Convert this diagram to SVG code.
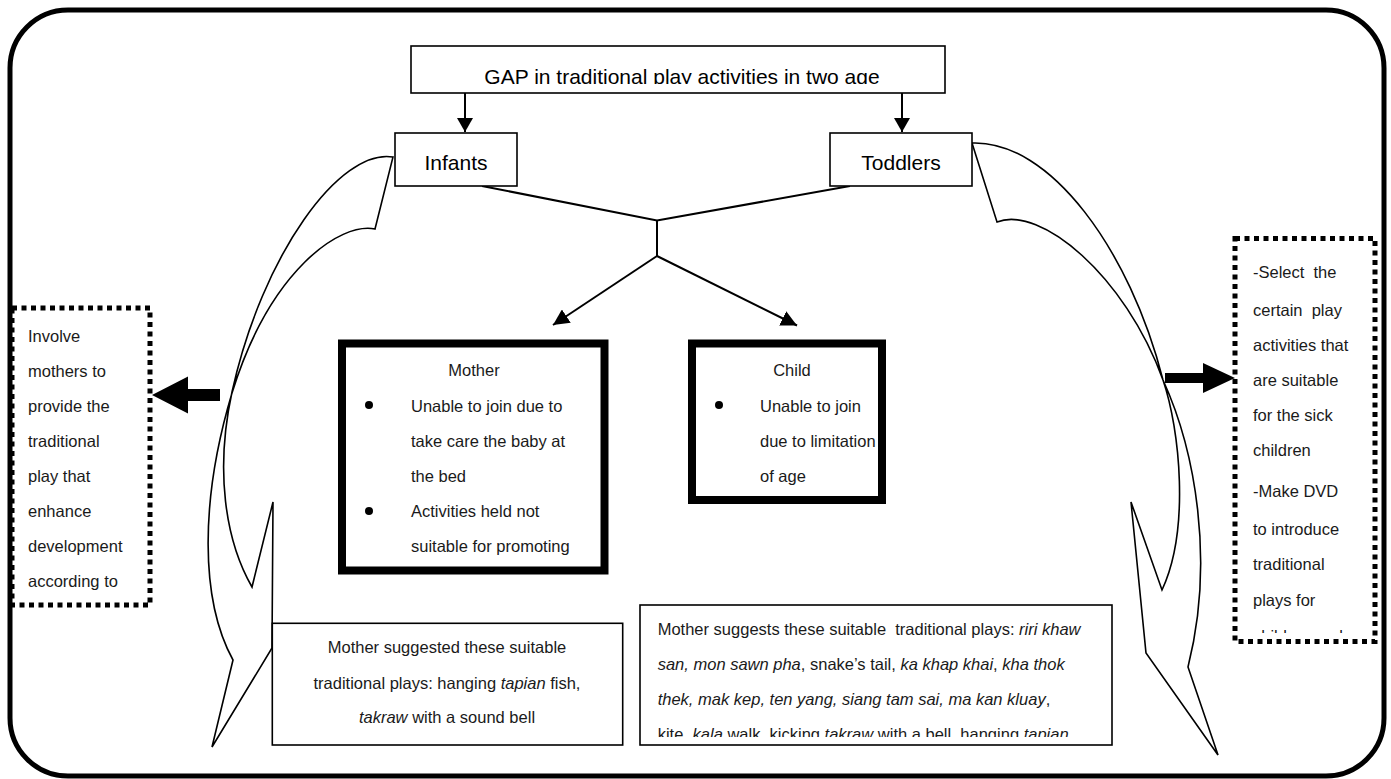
<svg xmlns="http://www.w3.org/2000/svg" width="1391" height="779" viewBox="0 0 1391 779">
<style>
.t{font-family:"Liberation Sans",Arial,sans-serif;fill:#1a1a1a}
.big{font-size:21px;fill:#000}
.b{font-size:16.5px}
.i{font-style:italic}
.box{fill:#fff;stroke:#000;stroke-width:1.6}
.thick{fill:#fff;stroke:#000;stroke-width:8}
.dot{fill:none;stroke:#000;stroke-width:5;stroke-dasharray:5 4.5}
.con{fill:none;stroke:#000;stroke-width:2}
.cur{fill:none;stroke:#000;stroke-width:1.6;stroke-linejoin:miter}
</style>
<defs>
<marker id="ah" viewBox="0 0 16 16" refX="16" refY="8" markerWidth="16" markerHeight="16" markerUnits="userSpaceOnUse" orient="auto"><path d="M0,0 L16,8 L0,16 Z" fill="#000"/></marker>
<marker id="ahs" viewBox="0 0 14 16" refX="14" refY="8" markerWidth="14" markerHeight="16" markerUnits="userSpaceOnUse" orient="auto"><path d="M0,0 L14,8 L0,16 Z" fill="#000"/></marker>
<clipPath id="cTitle"><rect x="411" y="46" width="534" height="38"/></clipPath>
<clipPath id="cRight"><rect x="1235" y="240" width="140" height="393"/></clipPath>
<clipPath id="cBR"><rect x="640" y="605" width="472" height="132"/></clipPath>
</defs>
<rect id="frame" x="10" y="10" width="1374" height="766" rx="58" ry="58" fill="#fff" stroke="#000" stroke-width="5"/>

<g id="callout-left">
<path class="cur" d="M393,157 C340,148 262,255 232,392 C215,470 225,540 252,587 L273,502 L272,648 L212,747 L233,660 C200,600 200,500 232,393 C270,270 340,222 375,229 Z"/>
</g>
<g id="callout-right">
<path class="cur" d="M972,143 C1050,140 1130,250 1163,380 C1180,430 1190,530 1162,590 L1131,502 L1146,653 L1218,755 L1188,667 C1215,560 1195,450 1163,380 C1125,275 1040,205 997,222 Z"/>
</g>

<g id="connectors">
<line class="con" x1="465" y1="93" x2="465" y2="132" marker-end="url(#ahs)"/>
<line class="con" x1="902" y1="93" x2="902" y2="132" marker-end="url(#ahs)"/>
<polyline class="con" points="482,186 657,220.5 850,186"/>
<line class="con" x1="657" y1="220.5" x2="657" y2="256"/>
<line class="con" x1="657" y1="256" x2="553" y2="325" marker-end="url(#ah)"/>
<line class="con" x1="657" y1="256" x2="797" y2="325.5" marker-end="url(#ah)"/>
<polygon points="152,395 188,376.5 188,389 220,389 220,401 188,401 188,413.5" fill="#000"/>
<polygon points="1235,378 1203,363 1203,373 1165,373 1165,383 1203,383 1203,393" fill="#000"/>
</g>

<g id="title">
<rect class="box" x="411" y="46" width="534" height="47"/>
<text class="t big" x="682" y="84" text-anchor="middle" clip-path="url(#cTitle)">GAP in traditional play activities in two age</text>
</g>
<g id="infants">
<rect class="box" x="395" y="133" width="122" height="53"/>
<text class="t big" x="456" y="170" text-anchor="middle">Infants</text>
</g>
<g id="toddlers">
<rect class="box" x="830" y="133" width="142" height="53"/>
<text class="t big" x="901" y="170" text-anchor="middle">Toddlers</text>
</g>

<g id="mother">
<rect class="thick" x="342" y="343.5" width="262.5" height="227"/>
<text class="t b" x="474" y="376" text-anchor="middle">Mother</text>
<circle cx="369" cy="405" r="4" fill="#000"/>
<text class="t b" x="411" y="411.7">Unable to join due to</text>
<text class="t b" x="411" y="446.7">take care the baby at</text>
<text class="t b" x="411" y="481.7">the bed</text>
<circle cx="369" cy="511" r="4" fill="#000"/>
<text class="t b" x="411" y="517">Activities held not</text>
<text class="t b" x="411" y="552">suitable for promoting</text>
</g>

<g id="child">
<rect class="thick" x="692" y="343.5" width="190" height="156.5"/>
<text class="t b" x="792" y="376" text-anchor="middle">Child</text>
<circle cx="719" cy="405" r="4" fill="#000"/>
<text class="t b" x="760" y="411.7">Unable to join</text>
<text class="t b" x="760" y="446.7">due to limitation</text>
<text class="t b" x="760" y="481.7">of age</text>
</g>

<g id="left-note">
<rect class="dot" x="12" y="308" width="138" height="297"/>
<text class="t b" x="28" y="341.7">Involve</text>
<text class="t b" x="28" y="376.7">mothers to</text>
<text class="t b" x="28" y="411.7">provide the</text>
<text class="t b" x="28" y="446.7">traditional</text>
<text class="t b" x="28" y="481.7">play that</text>
<text class="t b" x="28" y="516.7">enhance</text>
<text class="t b" x="28" y="551.7">development</text>
<text class="t b" x="28" y="586.7">according to</text>
</g>

<g id="right-note">
<rect class="dot" x="1235" y="238.5" width="140" height="403"/>
<g clip-path="url(#cRight)">
<text class="t b" x="1253" y="278.3" xml:space="preserve">-Select  the</text>
<text class="t b" x="1253" y="316" xml:space="preserve">certain  play</text>
<text class="t b" x="1253" y="350.7">activities that</text>
<text class="t b" x="1253" y="386">are suitable</text>
<text class="t b" x="1253" y="420.7">for the sick</text>
<text class="t b" x="1253" y="456">children</text>
<text class="t b" x="1253" y="497.3">-Make DVD</text>
<text class="t b" x="1253" y="535">to introduce</text>
<text class="t b" x="1253" y="570">traditional</text>
<text class="t b" x="1253" y="606">plays for</text>
<text class="t b" x="1253" y="641.5">children and</text>
</g>
</g>

<g id="infant-plays">
<rect class="box" x="272.3" y="623.3" width="350.4" height="121.7"/>
<text class="t b" x="447" y="653.3" text-anchor="middle">Mother suggested these suitable</text>
<text class="t b" x="447" y="689" text-anchor="middle">traditional plays: hanging <tspan class="i">tapian</tspan> fish,</text>
<text class="t b" x="447" y="723.3" text-anchor="middle"><tspan class="i">takraw</tspan> with a sound bell</text>
</g>

<g id="toddler-plays">
<rect class="box" x="640" y="605" width="472" height="140"/>
<g clip-path="url(#cBR)">
<text class="t b" x="657.7" y="635" xml:space="preserve">Mother suggests these suitable  traditional plays: <tspan class="i">riri khaw</tspan></text>
<text class="t b" x="657.7" y="670"><tspan class="i">san, mon sawn pha</tspan>, snake’s tail, <tspan class="i">ka khap khai</tspan>, <tspan class="i">kha thok</tspan></text>
<text class="t b" x="657.7" y="705"><tspan class="i">thek, mak kep, ten yang, siang tam sai, ma kan kluay</tspan>,</text>
<text class="t b" x="657.7" y="740">kite, <tspan class="i">kala</tspan> walk, kicking <tspan class="i">takraw</tspan> with a bell, hanging <tspan class="i">tapian</tspan></text>
</g>
</g>
</svg>
